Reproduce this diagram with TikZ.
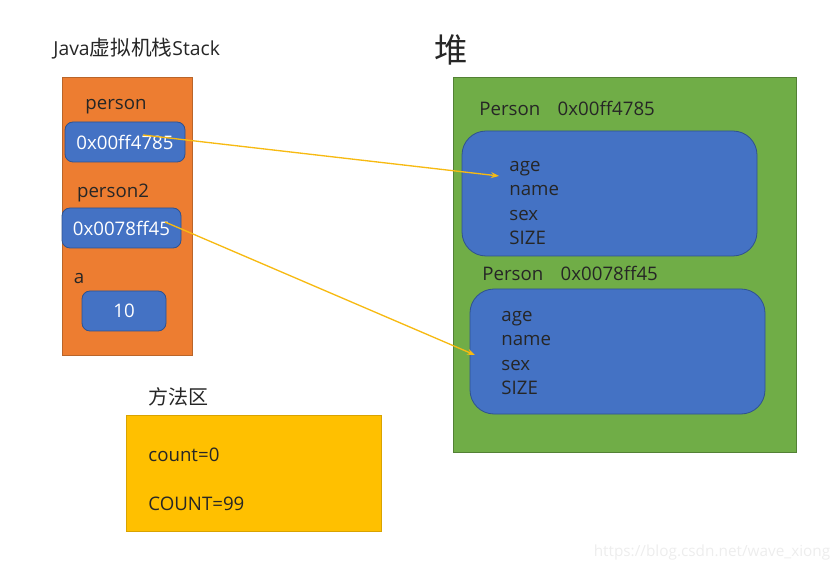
\documentclass[tikz,border=0pt]{standalone}
\usepackage{fontspec}
\setmainfont{Open Sans}
\newfontfamily\cjk{Noto Sans CJK SC}
\usetikzlibrary{positioning, arrows.meta}
\definecolor{stackorange}{HTML}{ED7D31}
\definecolor{stackedge}{HTML}{B9652A}
\definecolor{heapgreen}{HTML}{70AD47}
\definecolor{heapedge}{HTML}{538135}
\definecolor{cellblue}{HTML}{4472C4}
\definecolor{celledge}{HTML}{2F528F}
\definecolor{methodyellow}{HTML}{FFC000}
\definecolor{methodedge}{HTML}{D9A300}
\definecolor{reflink}{HTML}{F7BA12}

\begin{document}
\begin{tikzpicture}[x=0.75pt, y=-0.75pt, semithick]
\tikzstyle{area}=[draw, rectangle, inner sep=0pt]
\tikzstyle{cell}=[draw=celledge, fill=cellblue, rectangle, rounded corners=6pt, text=white, minimum height=30pt, inner sep=0pt, font=\fontsize{14}{16}\selectfont]
\tikzstyle{object}=[draw=celledge, fill=cellblue, rectangle, rounded corners=18pt, minimum width=221.25pt, minimum height=93.75pt]
\tikzstyle{txt}=[draw=none, inner sep=0pt, text=black!85, font=\fontsize{14}{16}\selectfont]
\tikzstyle{fields}=[txt, align=left, anchor=west, font=\fontsize{14}{18.4}\selectfont]
\tikzstyle{ref}=[-{Stealth[length=6pt, width=4.5pt]}, draw=reflink, line width=1pt]
\useasboundingbox (0,0) rectangle (835,573);

% stack
\node[txt, anchor=west, font=\fontsize{14.5}{16}\selectfont] (stacktitle) at (53,49) {Java{\cjk\fontsize{15.5}{16}\selectfont 虚拟机栈}Stack};
\node[area, draw=stackedge, fill=stackorange, minimum width=97.5pt, minimum height=208.5pt] (stack) at (127,216) {};
\node[txt] (lperson) at (116,107) {person};
\node[cell, minimum width=90pt] (addr1) at (125,142) {0x00ff4785};
\node[txt] (lperson2) at (113,193) {person2};
\node[cell, minimum width=89.25pt] (addr2) at (121.5,228) {0x0078ff45};
\node[txt] (la) at (79,279) {a};
\node[cell, minimum width=63pt] (val) at (124,311) {10};

% method area
\node[txt, font=\cjk\fontsize{15}{16}\selectfont] (methodtitle) at (178,397) {方法区};
\node[area, draw=methodedge, fill=methodyellow, minimum width=191.25pt, minimum height=87pt] (method) at (253.5,473) {};
\node[txt, anchor=west] (count) at (148,455) {count=0};
\node[txt, anchor=west] (COUNT) at (148,504) {COUNT=99};

% heap
\node[txt, font=\cjk\fontsize{25}{28}\selectfont] (heaptitle) at (451,50) {堆};
\node[area, draw=heapedge, fill=heapgreen, minimum width=257.25pt, minimum height=281.25pt] (heap) at (624.5,264.5) {};
\node[txt, anchor=west] (head1) at (479,108) {Person\hspace{13pt}0x00ff4785};
\node[object] (obj1) at (609.5,193.5) {};
\node[fields] (f1) at (509,203) {age\\name\\sex\\SIZE};
\node[txt, anchor=west] (head2) at (482,273) {Person\hspace{13pt}0x0078ff45};
\node[object] (obj2) at (617.5,351.5) {};
\node[fields] (f2) at (501,353) {age\\name\\sex\\SIZE};

% references
\coordinate (from1) at (143,135);
\coordinate (to1) at (499,176);
\coordinate (from2) at (165,222);
\coordinate (to2) at (475,355);
\path
(from1) edge[ref] (to1)
(from2) edge[ref] (to2);

\node[txt, text=black!7, font=\fontsize{11.5}{13}\selectfont] (mark) at (712,553) {https://blog.csdn.net/wave\_xiong};
\end{tikzpicture}
\end{document}
